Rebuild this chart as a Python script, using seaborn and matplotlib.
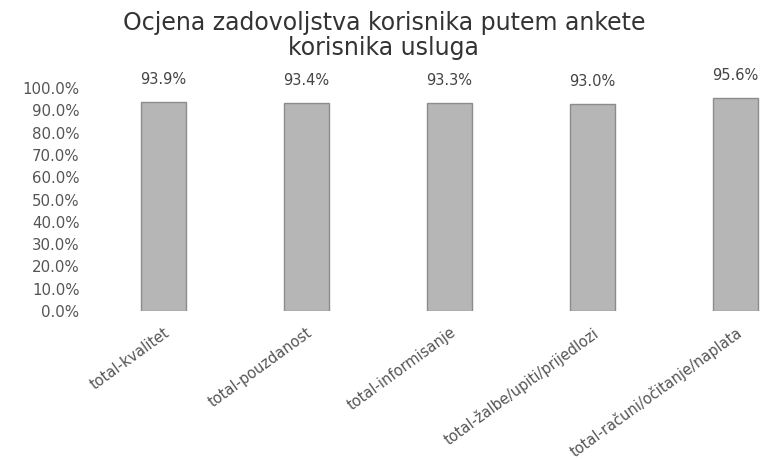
import matplotlib
matplotlib.use("Agg")
import matplotlib.pyplot as plt
import seaborn as sns
import pandas as pd
from matplotlib.ticker import PercentFormatter

categories = ["total-kvalitet", "total-pouzdanost", "total-informisanje",
              "total-žalbe/upiti/prijedlozi", "total-računi/očitanje/naplata"]
values = [93.9, 93.4, 93.3, 93.0, 95.6]
title = "Ocjena zadovoljstva korisnika putem ankete\nkorisnika usluga"

sns.set_theme(style="white")
plt.rcParams['font.family'] = ['DejaVu Sans']

df = pd.DataFrame({"cat": categories, "val": values})

fig = plt.figure(figsize=(7.63, 4.59), dpi=100)
ax = fig.add_axes([92/763, (459-311)/459, (807-92)/763, (311-88)/459])
sns.barplot(data=df, x="cat", y="val", ax=ax, color="#b6b6b6", width=0.32,
            edgecolor="#8c8c8c", linewidth=1.0, saturation=1)
ax.set_xlim(-0.5, 4.5)
ax.set_ylim(0, 100)
ax.set_yticks(range(0, 101, 10))
ax.yaxis.set_major_formatter(PercentFormatter(decimals=1))
ax.set_xlabel("")
ax.set_ylabel("")
for s in ax.spines.values():
    s.set_visible(False)
ax.tick_params(axis="y", length=0, labelsize=10.8, labelcolor="#555555", pad=9)
ax.tick_params(axis="x", length=0, labelsize=10.5, labelcolor="#555555", pad=10)
plt.setp(ax.get_xticklabels(), rotation=36, ha="right", rotation_mode="anchor")
for i, v in enumerate(values):
    ax.text(i, v + 6.5, f"{v:.1f}%", ha="center", va="bottom", fontsize=10.5,
            color="#444444")
fig.text(0.503, 0.975, title, ha="center", va="top", fontsize=17,
         color="#333333", linespacing=1.05)
fig.savefig("out.png", dpi=100)
